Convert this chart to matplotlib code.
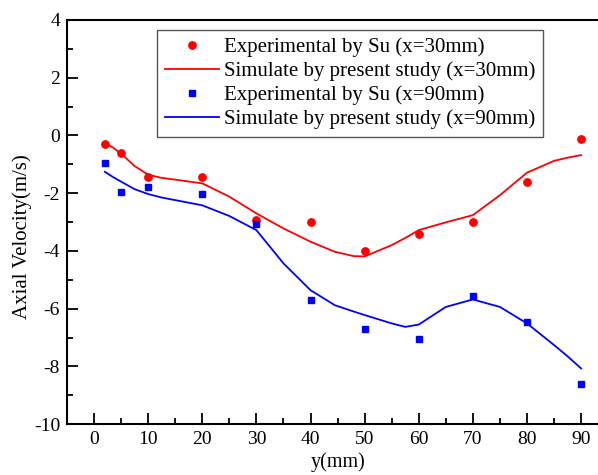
import numpy as np
import matplotlib.pyplot as plt
from matplotlib.ticker import MultipleLocator

plt.rcParams['font.family'] = ['Liberation Serif', 'DejaVu Serif']
plt.rcParams['axes.unicode_minus'] = False

# experimental points (y in mm, axial velocity in m/s)
exp_y = [2, 5, 10, 20, 30, 40, 50, 60, 70, 80, 90]
exp_30 = [-0.28, -0.62, -1.43, -1.44, -2.93, -3.0, -3.99, -3.42, -3.0, -1.61, -0.14]
exp_90 = [-0.96, -1.95, -1.78, -2.02, -3.08, -5.71, -6.72, -7.04, -5.55, -6.47, -8.6]

# simulated curves
sim_y = [2, 3.5, 5, 7.5, 10, 12.5, 15, 20, 25, 30, 35, 40, 44.5, 48, 50, 55, 57.5, 60, 65, 70,
         75, 80, 85, 87.5, 90]
sim_30 = [-0.25, -0.42, -0.63, -1.06, -1.36, -1.47, -1.53, -1.66, -2.12, -2.70, -3.22, -3.68, -4.03,
          -4.18, -4.19, -3.80, -3.55, -3.28, -3.01, -2.76, -2.07, -1.29, -0.88, -0.77, -0.68]
sim_90 = [-1.26, -1.44, -1.60, -1.86, -2.03, -2.15, -2.24, -2.42, -2.79, -3.28, -4.43, -5.36, -5.88,
          -6.10, -6.22, -6.51, -6.63, -6.55, -5.94, -5.68, -5.94, -6.51, -7.26, -7.65, -8.07]

fig = plt.figure(figsize=(5.98, 4.75), dpi=100)
ax = fig.add_axes([0.112, 0.107, 0.905, 0.851])

ax.plot(exp_y, exp_30, 'o', color='red', markersize=5.3, label='Experimental by Su (x=30mm)')
ax.plot(sim_y, sim_30, '-', color='red', lw=1.3, label='Simulate by present study (x=30mm)')
ax.plot(exp_y, exp_90, 's', color='blue', markersize=4.7, label='Experimental by Su (x=90mm)')
ax.plot(sim_y, sim_90, '-', color='blue', lw=1.3, label='Simulate by present study (x=90mm)')

ax.set_xlim(-5, 95)
ax.set_ylim(-10, 4)
ax.xaxis.set_major_locator(MultipleLocator(10))
ax.xaxis.set_minor_locator(MultipleLocator(5))
ax.yaxis.set_major_locator(MultipleLocator(2))
ax.yaxis.set_minor_locator(MultipleLocator(1))
ax.tick_params(which='both', direction='in', top=False, right=False, labelsize=14, width=1.3)
ax.tick_params(which='major', length=8, pad=5)
ax.tick_params(which='minor', length=4)
for s in ax.spines.values():
    s.set_linewidth(1.5)

ax.set_xlabel('y(mm)', fontsize=14.5, labelpad=3)
ax.set_ylabel('Axial Velocity(m/s)', fontsize=15)
ax.yaxis.set_label_coords(-0.064, 0.465)

leg = ax.legend(loc='upper left', bbox_to_anchor=(0.166, 0.976), fontsize=15, numpoints=1,
                handlelength=2.6, handletextpad=0.25, labelspacing=0.2, borderpad=0.38,
                borderaxespad=0, fancybox=False, framealpha=1, edgecolor='#555555')
leg.get_frame().set_linewidth(1.0)

fig.savefig('out.png', dpi=100)
